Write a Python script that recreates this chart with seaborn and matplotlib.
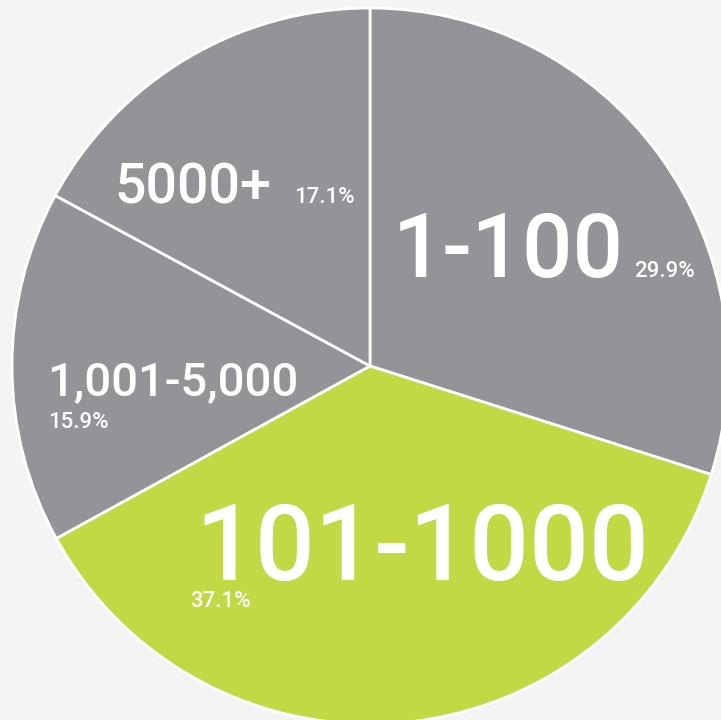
import matplotlib.pyplot as plt
import seaborn as sns

# company size buckets, share of respondents (%)
sizes = ["1-100", "101-1000", "1,001-5,000", "5000+"]
shares = [29.9, 37.1, 15.9, 17.1]
share_labels = ["29.9%", "37.1%", "15.9%", "17.1%"]

gray = "#939498"
green = "#c1d944"
bg = "#f4f4f4"

sns.set_theme(style="white")
plt.rcParams["font.family"] = ["Roboto", "DejaVu Sans"]

fig = plt.figure(figsize=(7.21, 7.20), dpi=100, facecolor=bg)
ax = fig.add_axes([0, 0, 1, 1])
ax.set_facecolor(bg)

colors = [green if s == "101-1000" else gray for s in sizes]
ax.pie(shares, colors=colors, startangle=90, counterclock=False,
       wedgeprops=dict(edgecolor="white", linewidth=2))

# centre at pixel (370, 366), radius 358 px
ax.set_xlim(-370 / 358, 351 / 358)
ax.set_ylim(-354 / 358, 366 / 358)
ax.set_aspect("equal")
ax.axis("off")

def px(x, y):
    return x / 721, 1 - y / 720

# label placement in pixels, plus font size of the bucket name
big = {"1-100": ((393, 277), 64), "101-1000": ((195, 580), 76),
       "1,001-5,000": ((47, 395), 34), "5000+": ((114, 203), 40)}
small = {"1-100": (634, 277), "101-1000": (190, 607),
         "1,001-5,000": (48, 428), "5000+": (294, 203)}

for s, lab in zip(sizes, share_labels):
    (bx, by), fs = big[s]
    fig.text(*px(bx, by), s, color="white", fontsize=fs, fontweight="medium",
             ha="left", va="baseline")
    fig.text(*px(*small[s]), lab, color="white", fontsize=16, fontweight="medium",
             ha="left", va="baseline")

fig.savefig("out.png", dpi=100, facecolor=bg)
